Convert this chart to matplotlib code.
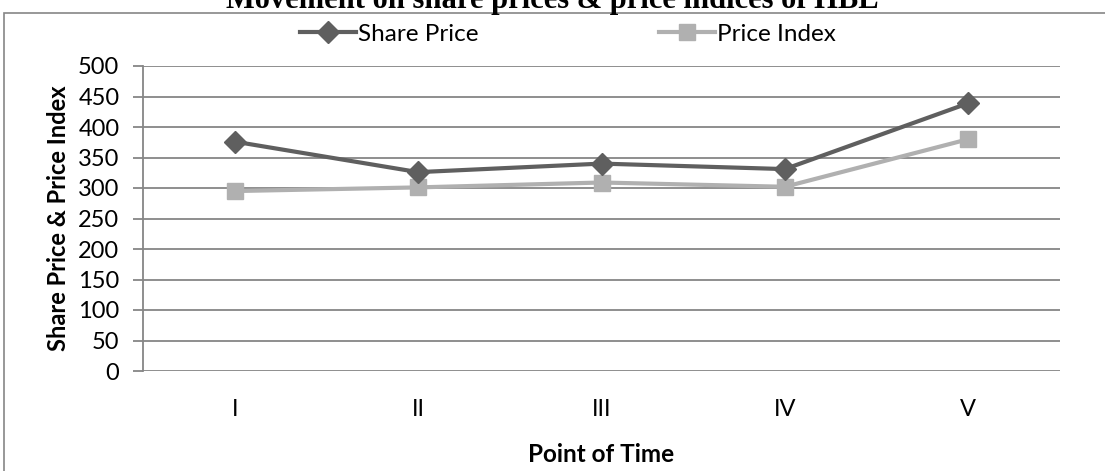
import matplotlib.pyplot as plt
from matplotlib.patches import Rectangle

points = ['I', 'II', 'III', 'IV', 'V']
share_price = [376, 326, 340, 331, 439]
price_index = [295, 301, 309, 302, 380]

plt.rcParams['font.family'] = ['Lato', 'DejaVu Sans']

W, H = 1105, 471
fig = plt.figure(figsize=(W / 100, H / 100), dpi=100)

# outer chart frame, open past the right and bottom edges
fig.patches.append(Rectangle((4 / W, -0.2), 1.2, 1.2 - 13 / H,
                             transform=fig.transFigure, fill=False,
                             edgecolor='#868686', linewidth=1.2))

ax = fig.add_axes([143 / W, 1 - 371 / H, (1060 - 143) / W, (371 - 66) / H])

x = range(len(points))
ax.plot(x, share_price, color='#5f5f5f', linewidth=3, marker='D', markersize=11,
        label='Share Price', zorder=4)
ax.plot(x, price_index, color='#b0b0b0', linewidth=3, marker='s', markersize=12,
        label='Price Index', zorder=3)

ax.set_xlim(-0.5, len(points) - 0.5)
ax.set_ylim(0, 500)
ax.set_yticks(range(0, 501, 50))
ax.set_xticks(list(x))
ax.set_xticklabels(points)
ax.yaxis.grid(True, color='#868686', linewidth=1.3)
ax.set_axisbelow(True)

for side in ['top', 'right', 'bottom']:
    ax.spines[side].set_visible(False)
ax.spines['left'].set_color('#868686')
ax.spines['left'].set_linewidth(1.3)

ax.tick_params(axis='y', length=7, width=1.3, color='#868686', labelsize=17, pad=10)
ax.tick_params(axis='x', length=0, labelsize=17, pad=20)

ax.set_ylabel('Share Price & Price Index', fontsize=17, fontweight='bold', labelpad=6)
ax.set_xlabel('Point of Time', fontsize=17.5, fontweight='bold', labelpad=17)

fig.legend(loc='center left', bbox_to_anchor=(300 / W, 1 - 34 / H), ncol=2,
           frameon=False, fontsize=17.5, handlelength=2.3, columnspacing=7.4,
           handletextpad=0.1, borderpad=0, borderaxespad=0)

fig.text(0.5, 1 - 8 / H, 'Movement on share prices & price indices of HBL',
         family='Liberation Serif', fontsize=22, fontweight='bold',
         ha='center', va='baseline')

fig.savefig('out.png', dpi=100)
